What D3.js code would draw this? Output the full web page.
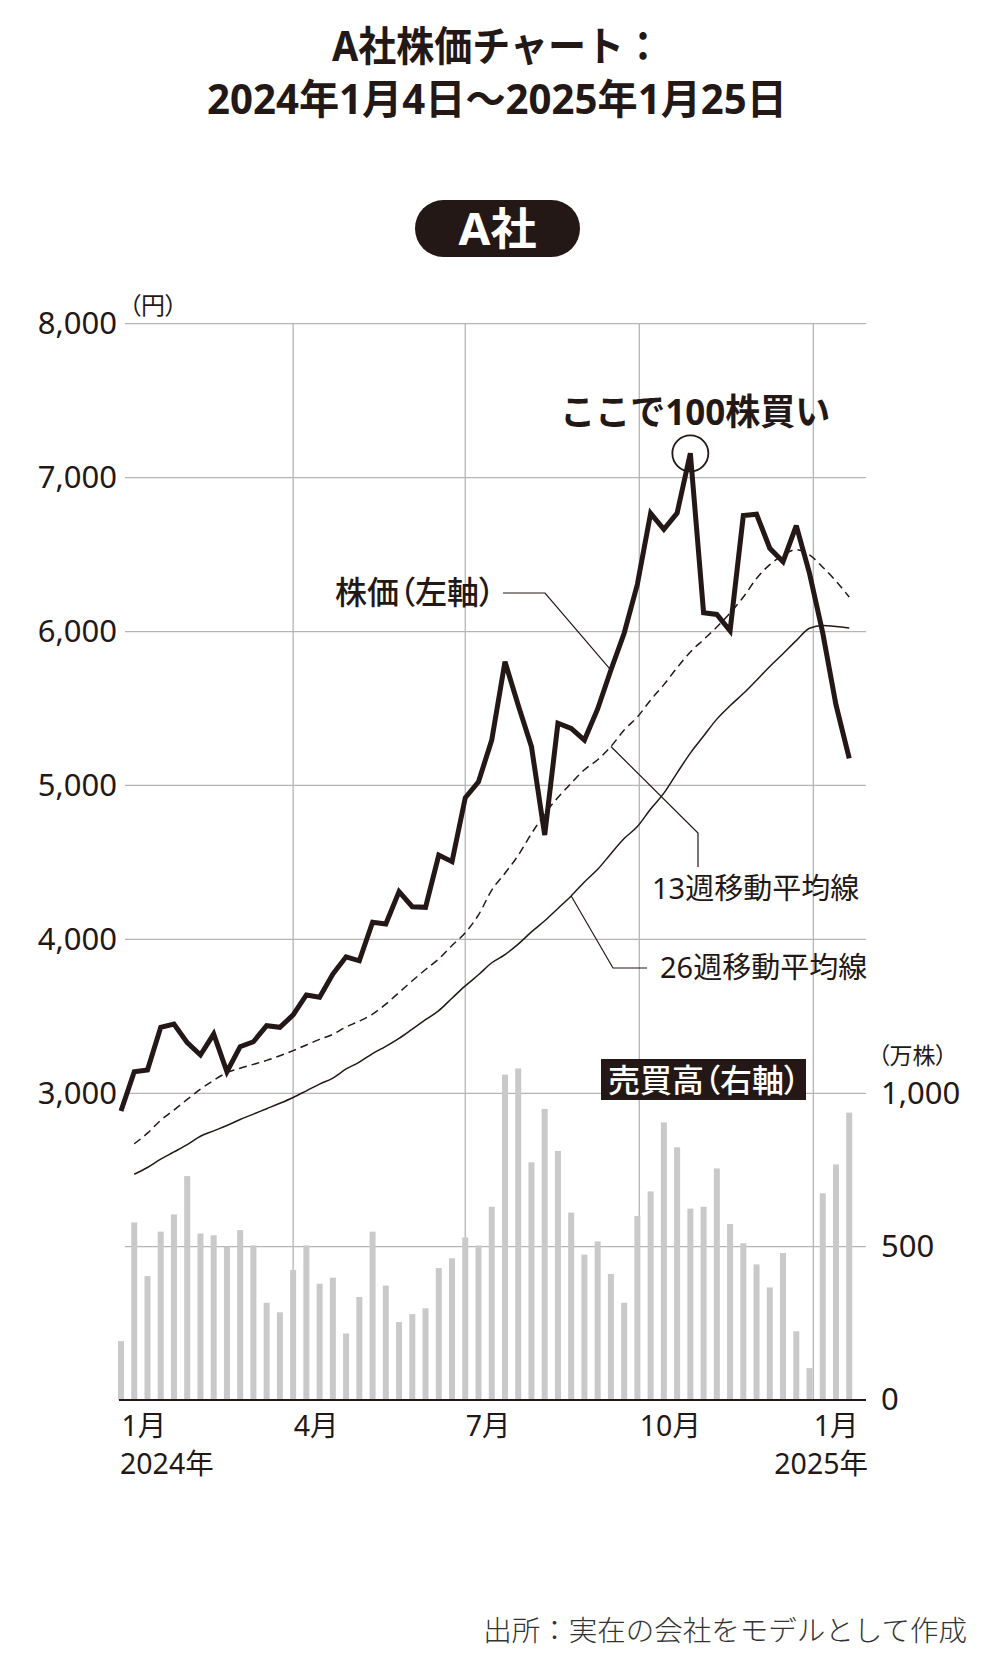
<!DOCTYPE html>
<html>
<head>
<meta charset="utf-8">
<script src="https://cdn.jsdelivr.net/npm/d3@7"></script>
<style>
  body { margin: 0; background: #fff; }
  svg text { font-family: "Noto Sans", "Noto Sans CJK JP", sans-serif; fill: #231815; }
  .palt { font-feature-settings: "palt"; }
</style>
</head>
<body>
<svg width="1000" height="1666"></svg>
<script>
// weekly points, 2024-01 .. 2025-01
const firstWeek = new Date(2024, 0, 1);
const weeks = d3.range(56).map(i => d3.timeDay.offset(firstWeek, 7 * i));

// close price (円)
const price = [2885, 3140, 3151, 3429, 3450, 3329, 3249, 3385, 3140, 3303,
               3335, 3439, 3429, 3509, 3639, 3624, 3775, 3887, 3861, 4111,
               4100, 4310, 4212, 4208, 4548, 4505, 4920, 5024, 5295, 5804,
               5521, 5252, 4678, 5404, 5371, 5295, 5497, 5750, 5989, 6307,
               6768, 6664, 6770, 7158, 6122, 6111, 6005, 6753, 6762, 6541,
               6454, 6688, 6378, 5990, 5523, 5176];

// 13 week moving average
const ma13 = [null, 2672, 2741, 2825, 2891, 2960, 3027, 3084, 3134, 3163,
              3188, 3214, 3244, 3277, 3314, 3350, 3383, 3431, 3469, 3514,
              3579, 3655, 3731, 3804, 3873, 3960, 4043, 4159, 4320, 4430,
              4546, 4687, 4815, 4922, 5014, 5102, 5167, 5253, 5360, 5445,
              5555, 5655, 5765, 5867, 5948, 6029, 6120, 6224, 6345, 6435,
              6495, 6532, 6498, 6418, 6328, 6224];

// 26 week moving average
const ma26 = [null, 2474, 2518, 2572, 2619, 2667, 2721, 2756, 2791, 2830,
              2865, 2900, 2935, 2973, 3016, 3060, 3099, 3158, 3203, 3258,
              3305, 3357, 3417, 3478, 3537, 3618, 3698, 3770, 3848, 3901,
              3969, 4049, 4121, 4201, 4282, 4373, 4455, 4557, 4655, 4733,
              4847, 4950, 5082, 5210, 5321, 5431, 5518, 5597, 5684, 5773,
              5856, 5941, 6021, 6039, 6033, 6023];

// volume (万株)
const volume = [192, 579, 404, 549, 605, 730, 543, 537, 500, 554,
                504, 317, 286, 424, 504, 379, 399, 217, 336, 549,
                373, 254, 280, 299, 430, 462, 530, 504, 630, 1061,
                1081, 775, 949, 812, 611, 474, 517, 411, 317, 600,
                680, 905, 824, 624, 630, 755, 574, 511, 442, 367,
                479, 224, 104, 674, 768, 937];

const priceTicks = [3000, 4000, 5000, 6000, 7000, 8000];
const volTicks = [0, 500, 1000];
const monthTicks = [new Date(2024, 0, 1), new Date(2024, 3, 1), new Date(2024, 6, 1),
                    new Date(2024, 9, 1), new Date(2025, 0, 1)];

const ink = "#231815";
const left = 125, right = 866;

const svg = d3.select("svg");

const x = d3.scaleTime()
    .domain([new Date(2024, 0, 1), new Date(2025, 0, 1)])
    .range([121, 813.3]);
const yPrice = d3.scaleLinear().domain([3000, 8000]).range([1093.3, 323.7]);
const yVol = d3.scaleLinear().domain([0, 1000]).range([1400, 1093.3]);

// titles
svg.append("text")
    .attr("x", 497).attr("y", 61)
    .attr("text-anchor", "middle")
    .attr("font-size", 41).attr("font-weight", 700)
    .attr("textLength", 330).attr("lengthAdjust", "spacingAndGlyphs")
    .text("A社株価チャート：");
svg.append("text")
    .attr("x", 497).attr("y", 114)
    .attr("text-anchor", "middle")
    .attr("font-size", 41).attr("font-weight", 700)
    .attr("textLength", 580).attr("lengthAdjust", "spacingAndGlyphs")
    .text("2024年1月4日～2025年1月25日");

// company pill
svg.append("rect")
    .attr("x", 415).attr("y", 200).attr("width", 165).attr("height", 57)
    .attr("rx", 28.5).attr("fill", ink);
svg.append("text")
    .attr("x", 497.5).attr("y", 245)
    .attr("text-anchor", "middle")
    .attr("font-size", 44).attr("font-weight", 700)
    .attr("textLength", 78).attr("lengthAdjust", "spacingAndGlyphs")
    .style("fill", "#fff")
    .text("A社");

// grid
const grid = svg.append("g").attr("stroke", "#b5b5b5").attr("stroke-width", 1.3);
grid.selectAll("line.hp").data(priceTicks).join("line").attr("class", "hp")
    .attr("x1", left).attr("x2", right)
    .attr("y1", d => yPrice(d)).attr("y2", d => yPrice(d));
grid.selectAll("line.hv").data(volTicks.filter(v => v > 0 && v < 1000)).join("line").attr("class", "hv")
    .attr("x1", left).attr("x2", right)
    .attr("y1", d => yVol(d)).attr("y2", d => yVol(d));
grid.selectAll("line.v").data(monthTicks.slice(1)).join("line").attr("class", "v")
    .attr("x1", d => x(d)).attr("x2", d => x(d))
    .attr("y1", yPrice(8000)).attr("y2", yVol(0));

// volume bars
svg.append("g").selectAll("rect").data(volume).join("rect")
    .attr("x", (d, i) => x(weeks[i]) - 3)
    .attr("width", 6)
    .attr("y", d => yVol(d))
    .attr("height", d => yVol(0) - yVol(d))
    .attr("fill", "#c9c9c9");

// baseline
svg.append("line")
    .attr("x1", 119).attr("x2", right)
    .attr("y1", yVol(0)).attr("y2", yVol(0))
    .attr("stroke", ink).attr("stroke-width", 2);

// moving averages
const maLine = d3.line()
    .defined(d => d != null)
    .x((d, i) => x(weeks[i]))
    .y(d => yPrice(d))
    .curve(d3.curveMonotoneX);

svg.append("path")
    .datum(ma26)
    .attr("fill", "none")
    .attr("stroke", ink)
    .attr("stroke-width", 1.5)
    .attr("d", maLine);

svg.append("path")
    .datum(ma13)
    .attr("fill", "none")
    .attr("stroke", ink)
    .attr("stroke-width", 1.5)
    .attr("stroke-dasharray", "8,5")
    .attr("d", maLine);

// price
const priceLine = d3.line()
    .x((d, i) => x(weeks[i]))
    .y(d => yPrice(d));

svg.append("path")
    .datum(price)
    .attr("fill", "none")
    .attr("stroke", ink)
    .attr("stroke-width", 5)
    .attr("stroke-linejoin", "miter")
    .attr("stroke-miterlimit", 3)
    .attr("d", priceLine);

// axes
svg.append("g")
    .attr("transform", `translate(${left},0)`)
    .call(d3.axisLeft(yPrice).tickValues(priceTicks).tickFormat(d3.format(",")).tickSize(0).tickPadding(8))
    .attr("font-size", 31)
    .call(g => g.select(".domain").remove());

svg.append("g")
    .attr("transform", `translate(${right},0)`)
    .call(d3.axisRight(yVol).tickValues(volTicks).tickFormat(d3.format(",")).tickSize(0).tickPadding(15))
    .attr("font-size", 31)
    .call(g => g.select(".domain").remove());

svg.append("g")
    .attr("transform", `translate(0,${yVol(0)})`)
    .call(d3.axisBottom(x).tickValues(monthTicks).tickFormat(d => (d.getMonth() + 1) + "月").tickSize(0))
    .attr("font-size", 28.5)
    .call(g => g.select(".domain").remove())
    .call(g => g.selectAll("text").attr("text-anchor", "start").attr("y", 36).attr("dy", 0));

svg.append("text")
    .attr("x", x(monthTicks[0]) - 1).attr("y", 1474)
    .attr("font-size", 28.5)
    .text("2024年");
svg.append("text")
    .attr("x", right + 2).attr("y", 1474)
    .attr("text-anchor", "end")
    .attr("font-size", 28.5)
    .text("2025年");

// unit labels
svg.append("text")
    .attr("class", "palt")
    .attr("x", 129).attr("y", 314)
    .attr("font-size", 24)
    .text("（円）");
svg.append("text")
    .attr("class", "palt")
    .attr("x", 878).attr("y", 1064)
    .attr("font-size", 23)
    .text("（万株）");

// annotations
const leader = d3.line();
const ann = svg.append("g").attr("fill", "none").attr("stroke", ink).attr("stroke-width", 1.2);

ann.append("path").attr("d", leader([[503, 593], [545, 593], [x(weeks[37]), yPrice(price[37])]]));
ann.append("path").attr("d", leader([[x(weeks[37]), yPrice(ma13[37])], [698, 833], [698, 867]]));
ann.append("path").attr("d", leader([[x(weeks[34]), yPrice(ma26[34])], [613, 968], [647, 968]]));

svg.append("text")
    .attr("class", "palt")
    .attr("x", 335).attr("y", 604)
    .attr("font-size", 32).attr("font-weight", 500)
    .text("株価（左軸）");

svg.append("text")
    .attr("x", 652).attr("y", 899)
    .attr("font-size", 29)
    .text("13週移動平均線");

svg.append("text")
    .attr("x", 660).attr("y", 978)
    .attr("font-size", 29)
    .text("26週移動平均線");

// buy point
const peak = 43;
svg.append("circle")
    .attr("cx", x(weeks[peak])).attr("cy", yPrice(price[peak]))
    .attr("r", 18)
    .attr("fill", "none").attr("stroke", ink).attr("stroke-width", 1.8);
svg.append("text")
    .attr("x", x(weeks[peak]) + 5).attr("y", 425)
    .attr("text-anchor", "middle")
    .attr("font-size", 36).attr("font-weight", 700)
    .attr("textLength", 270).attr("lengthAdjust", "spacingAndGlyphs")
    .text("ここで100株買い");

// volume tag
svg.append("rect")
    .attr("x", 601).attr("y", 1059).attr("width", 205).attr("height", 41)
    .attr("fill", ink);
svg.append("text")
    .attr("class", "palt")
    .attr("x", 608).attr("y", 1092)
    .attr("font-size", 32).attr("font-weight", 500)
    .style("fill", "#fff")
    .text("売買高（右軸）");

// source
svg.append("text")
    .attr("x", 967).attr("y", 1641)
    .attr("text-anchor", "end")
    .attr("font-size", 28.5).attr("font-weight", 300)
    .style("fill", "#333")
    .text("出所：実在の会社をモデルとして作成");
</script>
</body>
</html>
